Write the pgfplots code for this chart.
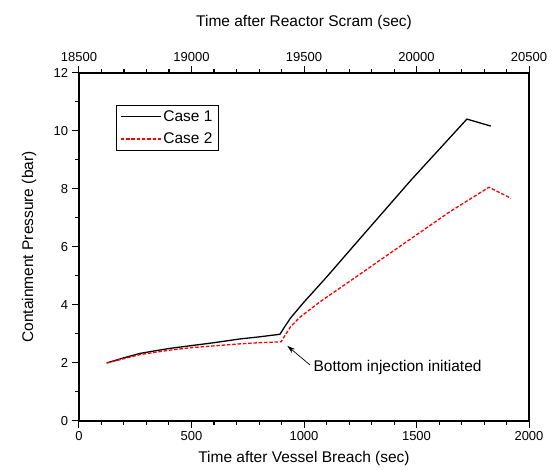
\documentclass[border=0pt]{standalone}
\usepackage{pgfplots}
\pgfplotsset{compat=1.18}
\usetikzlibrary{arrows.meta}
\usepackage{fontspec}
\setmainfont{Liberation Sans}
\begin{document}
\begin{tikzpicture}
\begin{axis}[
  at={(0,0)}, anchor=south west,
  scale only axis, width=450pt, height=348pt,
  clip=false,
  xmin=0, xmax=2000, ymin=0, ymax=12,
  xtick={0,500,...,2000}, ytick={0,2,...,12},
  minor x tick num=4, minor y tick num=1,
  xtick pos=bottom, ytick pos=left,
  xtick align=outside, ytick align=outside,
  line width=1.1pt,
  major tick length=7pt, minor tick length=4pt,
  every tick/.append style={line width=1pt, black, draw=black},
  scaled ticks=false,
  xticklabel={\pgfmathprintnumber[assume math mode=true,1000 sep={}]{\tick}},
  yticklabel={\pgfmathprintnumber[assume math mode=true,1000 sep={}]{\tick}},
  tick label style={font=\fontsize{13}{15}\selectfont},
  label style={font=\fontsize{15.5}{18}\selectfont},
  xlabel={Time after Vessel Breach (sec)},
  ylabel={Containment Pressure (bar)},
  xlabel style={yshift=-3pt},
  ylabel style={yshift=10pt},
  legend style={at={(0.0816,0.908)}, anchor=north west, draw=black, line width=0.8pt,
    font=\fontsize{15.5}{18}\selectfont, inner xsep=4pt, inner ysep=3pt, row sep=6pt},
  legend image code/.code={\draw[#1] (0pt,0pt) -- (40pt,0pt);},
  legend cell align=left,
]
\addplot[black, line width=1.3pt] coordinates {
(123,2.00) (200,2.18) (271,2.33) (316,2.39) (400,2.50) (500,2.60) (600,2.70) (716,2.83) (800,2.90) (893,2.99)
(910,3.20) (940,3.55) (1000,4.10) (1100,4.96) (1250,6.30) (1476,8.31) (1724,10.41) (1830,10.17)
};
\addlegendentry{Case 1}
\addplot[red, line width=1.3pt, dash pattern=on 3.5pt off 1.8pt] coordinates {
(123,2.00) (200,2.15) (271,2.29) (316,2.34) (400,2.44) (500,2.53) (600,2.59) (716,2.66) (800,2.70) (898,2.73)
(940,3.25) (982,3.58) (1071,4.11) (1200,4.80) (1400,5.88) (1649,7.22) (1822,8.06) (1920,7.68)
};
\addlegendentry{Case 2}
\draw[-{Stealth[length=8pt,width=5pt]}, line width=0.7pt] (axis cs:1027,1.93) -- (axis cs:926,2.59);
\node[anchor=west, inner sep=0pt, font=\fontsize{15.5}{18}\selectfont] at (axis cs:1040,1.83) {Bottom injection initiated};
\pgfplotsinvokeforeach{100,200,300,400,600,700,800,900,1100,1200,1300,1400,1600,1700,1800,1900}{
  \draw[line width=1pt, black] (axis cs:#1,0) -- ++(0pt,-4pt);
  \draw[line width=1pt, black] (axis cs:#1,12) -- ++(0pt,4pt);
}
\pgfplotsinvokeforeach{0,500,1000,1500,2000}{
  \draw[line width=1pt, black] (axis cs:#1,0) -- ++(0pt,-7pt);
  \draw[line width=1pt, black] (axis cs:#1,12) -- ++(0pt,7pt);
}
\pgfplotsinvokeforeach{0,2,4,6,8,10,12}{
  \draw[line width=1pt, black] (axis cs:0,#1) -- ++(-7pt,0pt);
}
\pgfplotsinvokeforeach{1,3,5,7,9,11}{
  \draw[line width=1pt, black] (axis cs:0,#1) -- ++(-4pt,0pt);
}
\end{axis}
\begin{axis}[
  at={(0,0)}, anchor=south west,
  scale only axis, width=450pt, height=348pt,
  xmin=18500, xmax=20500, ymin=0, ymax=12,
  axis x line*=top, hide y axis,
  xtick={18500,19000,...,20500},
  minor x tick num=4,
  xtick align=outside,
  line width=1.1pt,
  major tick length=7pt, minor tick length=4pt,
  every tick/.append style={line width=1pt, black, draw=black},
  scaled ticks=false,
  xticklabel={\pgfmathprintnumber[assume math mode=true,1000 sep={}]{\tick}},
  tick label style={font=\fontsize{13}{15}\selectfont},
  label style={font=\fontsize{15.5}{18}\selectfont},
  xlabel={Time after Reactor Scram (sec)},
  xlabel style={yshift=16pt},
]
\end{axis}
\path (-79pt,-45pt) rectangle (473pt,421pt);
\end{tikzpicture}
\end{document}
